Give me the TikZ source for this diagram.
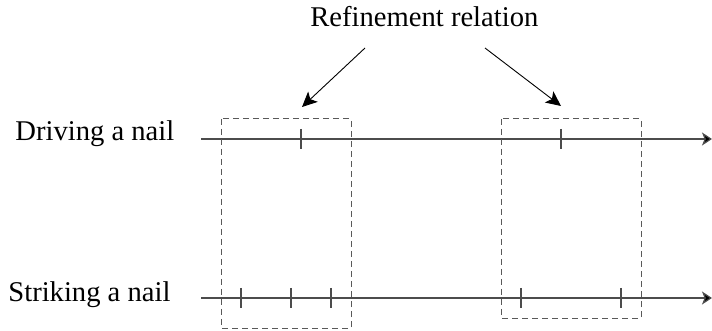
\documentclass[tikz,border=0pt]{standalone}
\usepackage{fontspec}
\setmainfont{Liberation Serif}
\usetikzlibrary{arrows.meta}

\tikzset{
  label/.style={inner sep=0pt, anchor=base west, font=\fontsize{14.3}{16}\selectfont},
  timeline/.style={draw=black!70, line width=0.6pt, -{Stealth[length=5pt, width=6.5pt, inset=1.3pt, fill=black]}},
  tick/.style={draw=black!70, line width=0.6pt},
  refbox/.style={draw=black!65, line width=0.5pt, dash pattern=on 3pt off 2pt, inner sep=0pt},
  pointer/.style={draw=black, line width=0.45pt, -{Stealth[length=7.5pt, width=7pt, inset=1.8pt]}}
}

\begin{document}
\begin{tikzpicture}[x=0.5pt, y=-0.5pt]
  \useasboundingbox (0,0) rectangle (712,331);

  % labels
  \node[label] (title) at (310,27) {Refinement relation};
  \node[label] (drive) at (15,141) {Driving a nail};
  \node[label] (strike) at (8,301) {Striking a nail};

  % time axes
  \coordinate (d0) at (201,139);
  \coordinate (d1) at (712,139);
  \coordinate (s0) at (201,298);
  \coordinate (s1) at (712,298);
  \draw[timeline] (d0) -- (d1);
  \draw[timeline] (s0) -- (s1);

  % events on the coarse axis
  \foreach \x in {301,561}
    \draw[tick] (\x,129) -- (\x,149);
  % events on the fine axis
  \foreach \x in {241,291,331,521,621}
    \draw[tick] (\x,288) -- (\x,308);

  % refinement groups
  \coordinate (l0) at (221,119);
  \coordinate (l1) at (351,328);
  \coordinate (r0) at (501,119);
  \coordinate (r1) at (641,318);
  \draw[refbox] (l0) rectangle (l1);
  \draw[refbox] (r0) rectangle (r1);

  % pointers from the caption to the groups
  \coordinate (p0) at (365,48);
  \coordinate (p1) at (302,107);
  \coordinate (q0) at (485,48);
  \coordinate (q1) at (561,106);
  \draw[pointer] (p0) -- (p1);
  \draw[pointer] (q0) -- (q1);
\end{tikzpicture}
\end{document}
